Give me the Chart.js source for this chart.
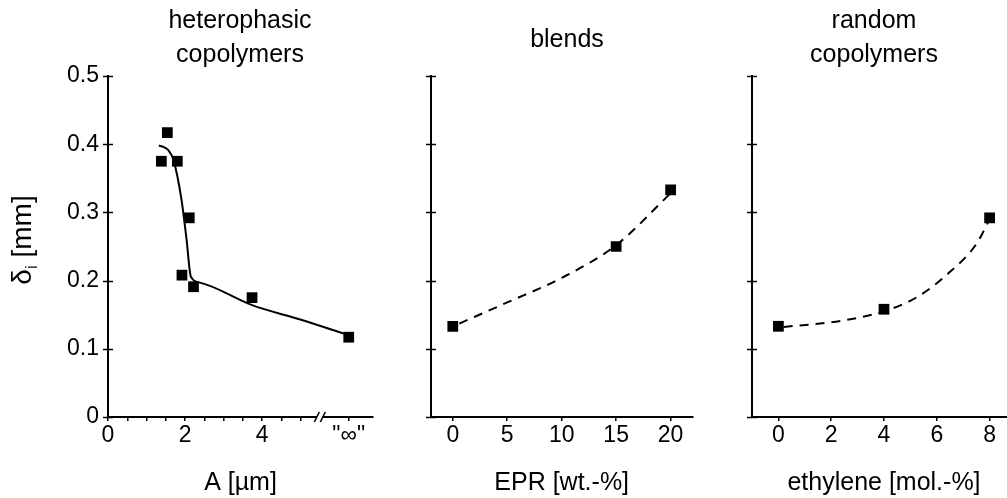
<!DOCTYPE html>
<html>
<head>
<meta charset="utf-8">
<script src="https://cdn.jsdelivr.net/npm/chart.js@4.4.1/dist/chart.umd.min.js"></script>
<style>
  html, body { margin: 0; padding: 0; background: #fff; overflow: hidden; }
  #wrap { position: relative; width: 1007px; height: 498px; overflow: hidden; }
  #wrap canvas { position: absolute; top: 0; }
</style>
</head>
<body>
<div id="wrap">
  <canvas id="c-hetero" width="390" height="498" style="left:0px"></canvas>
  <canvas id="c-blends" width="310" height="498" style="left:390px"></canvas>
  <canvas id="c-random" width="330" height="498" style="left:700px"></canvas>
</div>
<script>
// measured points
const heteroA     = [1.385, 1.54, 1.80, 1.92, 2.11, 2.22, 3.74, 6.25];
const heteroDelta = [0.375, 0.417, 0.375, 0.208, 0.292, 0.191, 0.175, 0.117];
const blendEPR    = [0, 15, 20];
const blendDelta  = [0.133, 0.250, 0.333];
const randomEth   = [0, 4, 8];
const randomDelta = [0.133, 0.158, 0.292];

// fitted curves
const heteroFitA     = [1.32, 1.44, 1.57, 1.70, 1.91, 2.04, 2.15, 2.39, 3.74, 4.99, 6.20];
const heteroFitDelta = [0.398, 0.396, 0.391, 0.377, 0.318, 0.260, 0.206, 0.197, 0.164, 0.143, 0.121];
const blendFitEPR    = [0.6, 5, 10, 15, 20];
const blendFitDelta  = [0.137, 0.168, 0.204, 0.252, 0.328];
const randomFitEth   = [0.2, 2.36, 4, 5.26, 6.45, 7.52, 8];
const randomFitDelta = [0.132, 0.141, 0.155, 0.176, 0.211, 0.255, 0.290];

// axis ticks
const yTicks = [0, 0.1, 0.2, 0.3, 0.4, 0.5];
const heteroTicks = [0, 2, 4, 6.25];
const heteroTickText = ['0', '2', '4', '"\u221E"'];
const blendTicks = [0, 5, 10, 15, 20];
const randomTicks = [0, 2, 4, 6, 8];

const FAMILY = "'Liberation Sans', Arial, Helvetica, sans-serif";
const TICK_SIZE = 23;
const TITLE_SIZE = 25;
const YTITLE_SIZE = 28;
Chart.defaults.color = '#000';
Chart.defaults.font.family = FAMILY;
Chart.defaults.font.size = TICK_SIZE;

const toXY = (xs, ys) => xs.map((x, i) => ({ x, y: ys[i] }));

const panelDecor = {
  id: 'panelDecor',
  afterDraw(chart, args, o) {
    const ctx = chart.ctx;
    const area = chart.chartArea;
    const xs = chart.scales.x, ys = chart.scales.y;
    ctx.save();
    ctx.strokeStyle = '#000';
    ctx.lineWidth = 1.5;

    // y ticks cross the axis line
    ys.ticks.forEach(t => {
      const py = Math.round(ys.getPixelForValue(t.value)) + 0.5;
      ctx.beginPath();
      ctx.moveTo(area.left - 5, py);
      ctx.lineTo(area.left + 5, py);
      ctx.stroke();
    });

    // axis break
    if (o.breakAt != null) {
      const bx = xs.getPixelForValue(o.breakAt);
      const by = area.bottom;
      ctx.fillStyle = '#fff';
      ctx.fillRect(bx - 3, by - 3, 6, 6);
      ctx.lineWidth = 1.6;
      [-3, 3].forEach(dx => {
        ctx.beginPath();
        ctx.moveTo(bx + dx - 2.5, by + 5);
        ctx.lineTo(bx + dx + 2.5, by - 5);
        ctx.stroke();
      });
    }

    // panel title
    ctx.fillStyle = '#000';
    ctx.font = TITLE_SIZE + 'px ' + FAMILY;
    ctx.textAlign = 'center';
    ctx.textBaseline = 'alphabetic';
    o.title.forEach((line, i) => ctx.fillText(line, o.titleX, o.titleY[i]));

    // y axis title with subscript
    if (o.yTitle) {
      ctx.translate(31, 240);
      ctx.rotate(-Math.PI / 2);
      ctx.textAlign = 'left';
      const subFont = Math.round(YTITLE_SIZE * 0.6) + 'px ' + FAMILY;
      const mainFont = YTITLE_SIZE + 'px ' + FAMILY;
      ctx.font = mainFont;
      const wd = ctx.measureText('\u03B4').width;
      const wr = ctx.measureText(' [mm]').width;
      ctx.font = subFont;
      const wi = ctx.measureText('i').width;
      const x0 = -(wd + wi + wr) / 2;
      ctx.font = mainFont;
      ctx.fillText('\u03B4', x0, 0);
      ctx.font = subFont;
      ctx.fillText('i', x0 + wd, 6);
      ctx.font = mainFont;
      ctx.fillText(' [mm]', x0 + wd + wi, 0);
    }
    ctx.restore();
  }
};

function makePanel(id, cfg) {
  return new Chart(document.getElementById(id), {
    type: 'scatter',
    data: {
      datasets: [
        {
          data: cfg.points,
          pointStyle: 'rect',
          pointRadius: 7.6,
          backgroundColor: '#000',
          borderWidth: 0,
          showLine: false
        },
        {
          data: cfg.fit,
          showLine: true,
          pointRadius: 0,
          borderColor: '#000',
          borderWidth: 2,
          borderDash: cfg.dashed ? [9, 7] : [],
          cubicInterpolationMode: 'monotone',
          fill: false
        }
      ]
    },
    options: {
      responsive: false,
      animation: false,
      devicePixelRatio: 1,
      layout: { padding: { top: 76, right: cfg.padRight, left: 0, bottom: 0 } },
      plugins: {
        legend: { display: false },
        tooltip: { enabled: false },
        panelDecor: cfg.decor
      },
      scales: {
        x: {
          type: 'linear',
          min: cfg.xMin,
          max: cfg.xMax,
          afterBuildTicks: s => { s.ticks = cfg.xTicks.map(v => ({ value: v })); },
          afterFit: s => { s.height = 81; },
          ticks: {
            padding: 1,
            maxRotation: 0,
            autoSkip: false,
            callback: cfg.xLabel
          },
          grid: { display: true, drawOnChartArea: false, drawTicks: true, tickLength: 4, color: '#000', lineWidth: 1.5 },
          border: { display: true, color: '#000', width: 2 },
          title: { display: true, text: cfg.xTitle, padding: { top: 0, bottom: 0 }, font: { size: TITLE_SIZE } }
        },
        y: {
          type: 'linear',
          min: 0,
          max: 0.5,
          afterBuildTicks: s => { s.ticks = yTicks.map(v => ({ value: v })); },
          afterFit: s => { s.width = cfg.yWidth; },
          ticks: {
            display: cfg.yLabels,
            padding: 9,
            callback: v => String(v)
          },
          grid: { display: false, drawTicks: false },
          border: { display: true, color: '#000', width: 2 }
        }
      }
    },
    plugins: [panelDecor]
  });
}

// minor ticks every 0.5 up to the break, then the "infinite" tick
const heteroMinor = [];
for (let v = 0; v <= 5.001; v += 0.5) heteroMinor.push(Math.round(v * 10) / 10);

makePanel('c-hetero', {
  points: toXY(heteroA, heteroDelta),
  fit: toXY(heteroFitA, heteroFitDelta),
  dashed: false,
  xMin: 0, xMax: 6.88,
  xTicks: heteroMinor.concat([6.25]),
  xLabel: v => {
    const i = heteroTicks.indexOf(v);
    return i >= 0 ? heteroTickText[i] : '';
  },
  xTitle: 'A [\u00B5m]',
  yWidth: 108, yLabels: true, padRight: 17,
  decor: { title: ['heterophasic', 'copolymers'], titleX: 240, titleY: [28, 62], yTitle: true, breakAt: 5.5 }
});

makePanel('c-blends', {
  points: toXY(blendEPR, blendDelta),
  fit: toXY(blendFitEPR, blendFitDelta),
  dashed: true,
  xMin: -2, xMax: 22,
  xTicks: blendTicks,
  xLabel: v => String(v),
  xTitle: 'EPR [wt.-%]',
  yWidth: 41, yLabels: false, padRight: 5,
  decor: { title: ['blends'], titleX: 177, titleY: [47], yTitle: false, breakAt: null }
});

makePanel('c-random', {
  points: toXY(randomEth, randomDelta),
  fit: toXY(randomFitEth, randomFitDelta),
  dashed: true,
  xMin: -1, xMax: 9,
  xTicks: randomTicks,
  xLabel: v => String(v),
  xTitle: 'ethylene [mol.-%]',
  yWidth: 52, yLabels: false, padRight: 14,
  decor: { title: ['random', 'copolymers'], titleX: 174, titleY: [28, 62], yTitle: false, breakAt: null }
});
</script>
</body>
</html>
